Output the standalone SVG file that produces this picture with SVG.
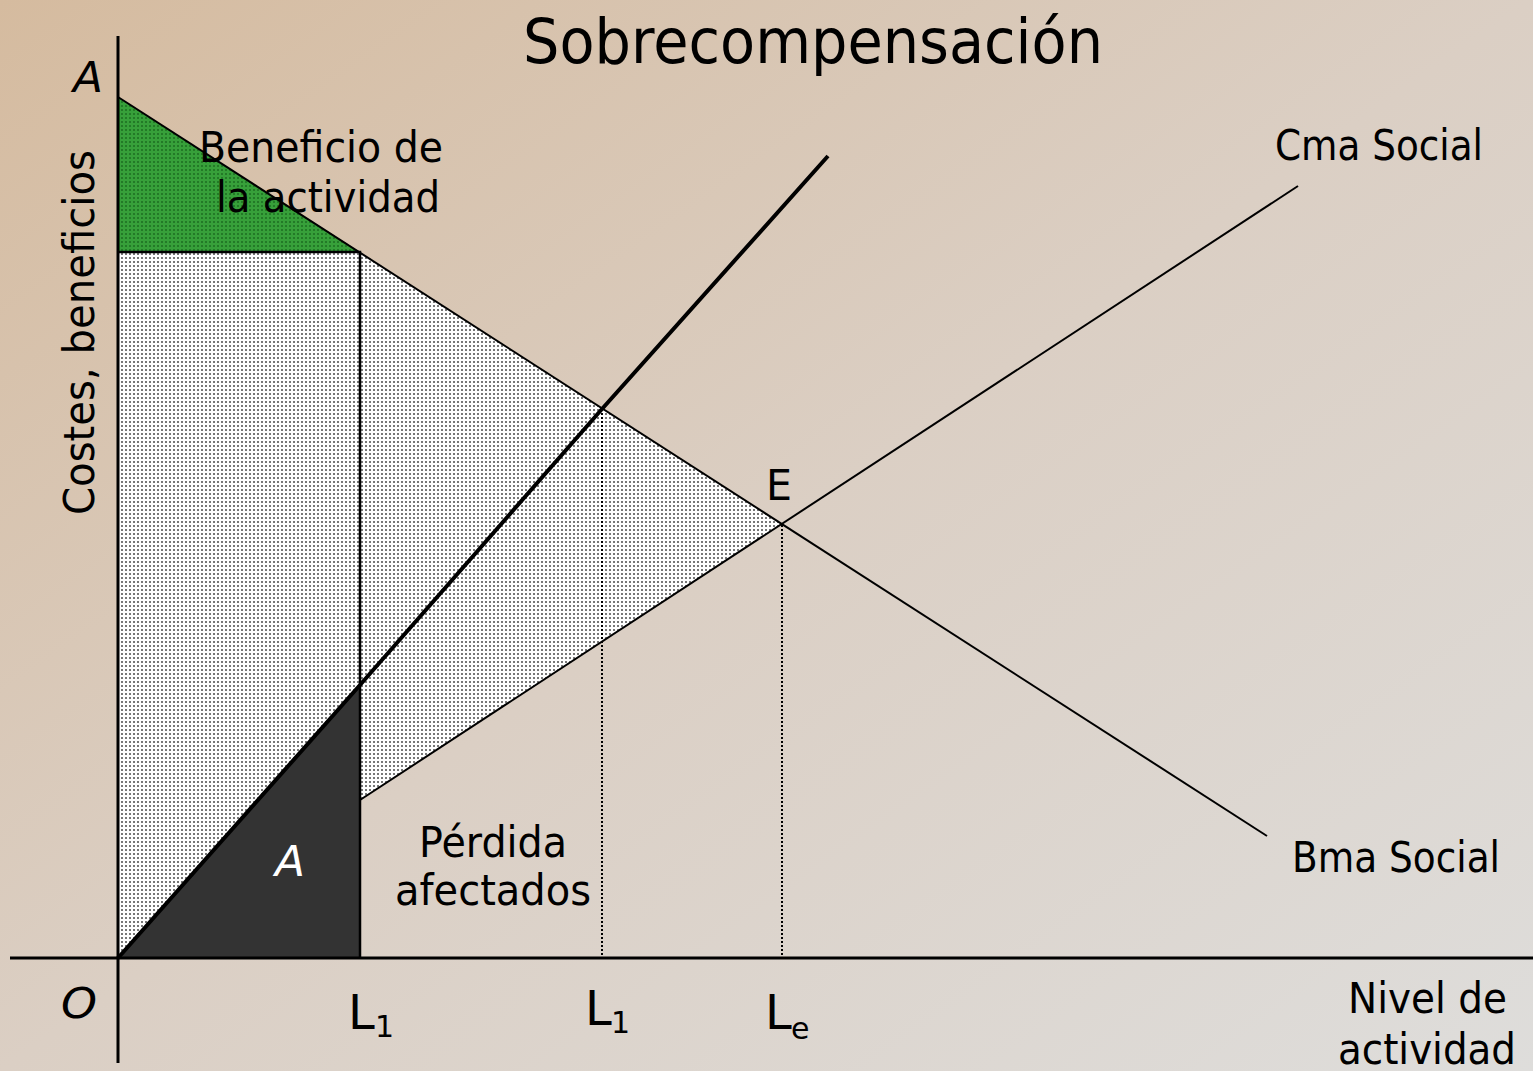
<svg xmlns="http://www.w3.org/2000/svg" width="1533" height="1071" viewBox="0 0 1533 1071">
<defs>
<linearGradient id="bg" x1="0" y1="0" x2="1" y2="1">
<stop offset="0" stop-color="#d5bb9f"/>
<stop offset="0.5" stop-color="#dbcfc4"/>
<stop offset="1" stop-color="#dedddb"/>
</linearGradient>
<pattern id="dots" width="4" height="4" patternUnits="userSpaceOnUse">
<rect width="4" height="4" fill="#ffffff"/>
<rect x="1" y="1" width="2" height="2" fill="#777777"/>
</pattern>
<pattern id="gdots" width="4" height="4" patternUnits="userSpaceOnUse">
<rect width="4" height="4" fill="#37a03a"/>
<rect x="1" y="1" width="2" height="2" fill="#237a27"/>
</pattern>
<style>
text{font-family:"DejaVu Sans","Liberation Sans",sans-serif;fill:#000}
.lbl{font-size:42px}
.ln{fill:none;stroke:#000;stroke-width:2}
.thick{fill:none;stroke:#000;stroke-width:4}
.axis{fill:none;stroke:#000;stroke-width:3}
.dash{fill:none;stroke:#000;stroke-width:2;stroke-dasharray:2 2}
</style>
</defs>
<rect width="1533" height="1071" fill="url(#bg)"/>

<g id="beneficio-area">
<polygon points="118,97 118,252 360,252" fill="url(#gdots)"/>
</g>
<g id="dotted-area">
<polygon points="118,252 360,252 360,685 118,958" fill="url(#dots)"/>
<polygon points="360,252 782,524 360,800" fill="url(#dots)"/>
</g>
<g id="area-A">
<polygon points="118,958 360,685 360,958" fill="#333333"/>
</g>

<g id="connectors">
<line class="axis" x1="118" y1="36" x2="118" y2="1063"/>
<line class="axis" x1="10" y1="958" x2="1533" y2="958"/>
<line class="ln" x1="118" y1="97" x2="1267" y2="836"/>
<line class="ln" x1="360" y1="800" x2="1298" y2="186"/>
<polyline class="thick" points="118,958 360,685 602,409 828,156"/>
<polyline class="ln" points="118,252 360,252 360,958" style="stroke-width:2.5"/>
<line class="dash" x1="602" y1="409" x2="602" y2="958"/>
<line class="dash" x1="782" y1="525" x2="782" y2="958"/>
</g>

<g id="title">
<text x="523" y="63" font-size="62" textLength="580" lengthAdjust="spacingAndGlyphs">Sobrecompensación</text>
</g>
<g id="y-axis-label">
<text class="lbl" transform="translate(94,515) rotate(-90)" x="0" y="0" textLength="365" lengthAdjust="spacingAndGlyphs">Costes, beneficios</text>
</g>
<g id="label-A-top">
<text class="lbl" x="73" y="92" font-style="italic" textLength="30" lengthAdjust="spacingAndGlyphs">A</text>
</g>
<g id="label-beneficio">
<text class="lbl" x="199" y="162" textLength="244" lengthAdjust="spacingAndGlyphs">Beneficio de</text>
<text class="lbl" x="216" y="212" textLength="224" lengthAdjust="spacingAndGlyphs">la actividad</text>
</g>
<g id="label-cma">
<text class="lbl" x="1275" y="160" textLength="208" lengthAdjust="spacingAndGlyphs">Cma Social</text>
</g>
<g id="label-E">
<text class="lbl" x="766" y="500" textLength="26" lengthAdjust="spacingAndGlyphs">E</text>
</g>
<g id="label-bma">
<text class="lbl" x="1292" y="872" textLength="208" lengthAdjust="spacingAndGlyphs">Bma Social</text>
</g>
<g id="label-A-area">
<text class="lbl" x="275" y="876" font-style="italic" textLength="30" lengthAdjust="spacingAndGlyphs" style="fill:#ffffff">A</text>
</g>
<g id="label-perdida">
<text class="lbl" x="419" y="857" textLength="148" lengthAdjust="spacingAndGlyphs">Pérdida</text>
<text class="lbl" x="395" y="905" textLength="196" lengthAdjust="spacingAndGlyphs">afectados</text>
</g>
<g id="label-O">
<text class="lbl" x="61" y="1018" font-style="italic" textLength="36" lengthAdjust="spacingAndGlyphs">O</text>
</g>
<g id="label-L1a">
<text x="348" y="1029" font-size="48">L</text>
<text x="375" y="1037" font-size="30">1</text>
</g>
<g id="label-L1b">
<text x="585" y="1025" font-size="48">L</text>
<text x="611" y="1033" font-size="30">1</text>
</g>
<g id="label-Le">
<text x="765" y="1029" font-size="48">L</text>
<text x="791" y="1039" font-size="30">e</text>
</g>
<g id="label-nivel">
<text class="lbl" x="1348" y="1013" textLength="159" lengthAdjust="spacingAndGlyphs">Nivel de</text>
<text class="lbl" x="1338" y="1064" textLength="178" lengthAdjust="spacingAndGlyphs">actividad</text>
</g>
</svg>
